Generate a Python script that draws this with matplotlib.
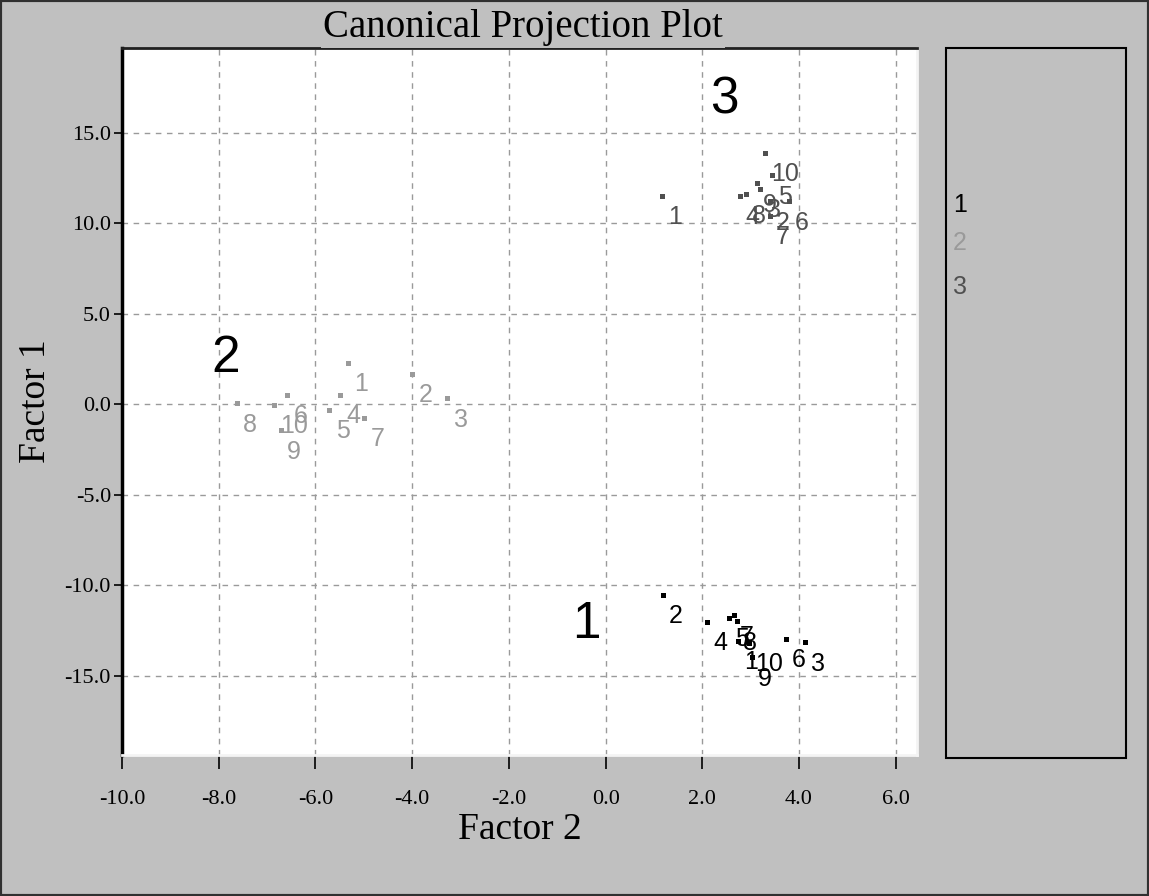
import matplotlib
matplotlib.use("Agg")
import matplotlib.pyplot as plt
from matplotlib.patches import Rectangle

# Canonical scores (Factor 2 on x, Factor 1 on y) for the three groups
point_ids = ["1", "2", "3", "4", "5", "6", "7", "8", "9", "10"]

group1_f2 = [2.73, 1.18, 4.12, 2.09, 2.55, 3.73, 2.65, 2.71, 3.02, 2.96]
group1_f1 = [-13.09, -10.55, -13.15, -12.04, -11.82, -12.98, -11.66, -11.99, -13.98, -13.20]

group2_f2 = [-5.32, -4.00, -3.27, -5.49, -5.71, -6.58, -4.99, -7.62, -6.71, -6.85]
group2_f1 = [2.27, 1.66, 0.33, 0.50, -0.33, 0.50, -0.77, 0.05, -1.44, -0.05]

group3_f2 = [1.16, 3.40, 3.20, 2.77, 3.44, 3.79, 3.40, 2.90, 3.13, 3.29]
group3_f1 = [11.50, 11.20, 11.90, 11.50, 12.65, 11.20, 10.40, 11.60, 12.20, 13.87]

group_names = ["1", "2", "3"]
group_colors = ["#000000", "#9a9a9a", "#505050"]
# where each group's name is written on the plot
group_name_f2 = [-0.39, -7.85, 2.46]
group_name_f1 = [-12.2, 2.54, 16.8]

x_ticks = [-10.0, -8.0, -6.0, -4.0, -2.0, 0.0, 2.0, 4.0, 6.0]
y_ticks = [-15.0, -10.0, -5.0, 0.0, 5.0, 10.0, 15.0]

W, H, DPI = 1149, 896, 100
BG = "#c0c0c0"
SERIF = ["Liberation Serif", "DejaVu Serif"]
NARROW = ["Liberation Sans Narrow", "Liberation Sans", "DejaVu Sans"]

fig = plt.figure(figsize=(W / DPI, H / DPI), dpi=DPI, facecolor=BG)


def fx(px):
    return px / W


def fy(py):
    return 1 - py / H


ax = fig.add_axes([fx(122), fy(755), fx(917) - fx(122), fy(48) - fy(755)])
ax.set_facecolor("white")
ax.set_xlim(-10.0, 6.44)
ax.set_ylim(-19.39, 19.67)

ax.set_xticks(x_ticks)
ax.set_yticks(y_ticks)
ax.set_xticklabels([f"{v:.1f}" for v in x_ticks], fontfamily=SERIF, fontsize=16)
ax.set_yticklabels([f"{v:.1f}" for v in y_ticks], fontfamily=SERIF, fontsize=16)
ax.tick_params(axis="x", direction="out", length=10, width=1.2, color="black", pad=15)
ax.tick_params(axis="y", direction="out", length=6, width=1.2, color="black", pad=2)
ax.grid(True, color="#9a9a9a", linestyle=(0, (4, 4)), linewidth=1.0)

for side in ["right", "bottom"]:
    ax.spines[side].set_color("#f4f4f4")
    ax.spines[side].set_linewidth(2)
ax.spines["left"].set_color("black")
ax.spines["left"].set_linewidth(2.5)
ax.spines["top"].set_color("#202020")
ax.spines["top"].set_linewidth(2)

ax.set_xlabel("Factor 2", fontfamily=SERIF, fontsize=27, labelpad=3)
ax.set_ylabel("Factor 1", fontfamily=SERIF, fontsize=27, labelpad=8)

groups = [
    (group1_f2, group1_f1),
    (group2_f2, group2_f1),
    (group3_f2, group3_f1),
]
for (xs, ys), color in zip(groups, group_colors):
    ax.plot(xs, ys, linestyle="none", marker="s", markersize=3.6,
            color=color, markeredgewidth=0)
    for x, y, pid in zip(xs, ys, point_ids):
        ax.annotate(pid, (x, y), xytext=(4.5, -20.5), textcoords="offset points",
                    ha="left", va="baseline", fontsize=18,
                    fontfamily=NARROW, color=color)

for name, gx, gy in zip(group_names, group_name_f2, group_name_f1):
    ax.text(gx, gy, name, ha="center", va="center", fontsize=37,
            fontfamily=NARROW, color="black")

# Title on the panel background, interrupting the top frame line
fig.text(fx(523), fy(28), "Canonical Projection Plot", ha="center", va="center",
         fontfamily=SERIF, fontsize=28, color="black",
         bbox=dict(facecolor=BG, edgecolor="none", pad=1.5))

# Legend panel
fig.patches.append(Rectangle((fx(946), fy(758)), fx(1126) - fx(946), fy(48) - fy(758),
                             transform=fig.transFigure, facecolor=BG,
                             edgecolor="black", linewidth=1.5))
for name, color, py in zip(group_names, group_colors, [205, 243, 287]):
    fig.text(fx(953), fy(py), name, ha="left", va="center", fontsize=18,
             fontfamily=NARROW, color=color)

# Window frame
fig.patches.append(Rectangle((0, 0), 1, 1, transform=fig.transFigure,
                             facecolor="none", edgecolor="#303030", linewidth=3))

fig.savefig("out.png", dpi=DPI, facecolor=BG)
